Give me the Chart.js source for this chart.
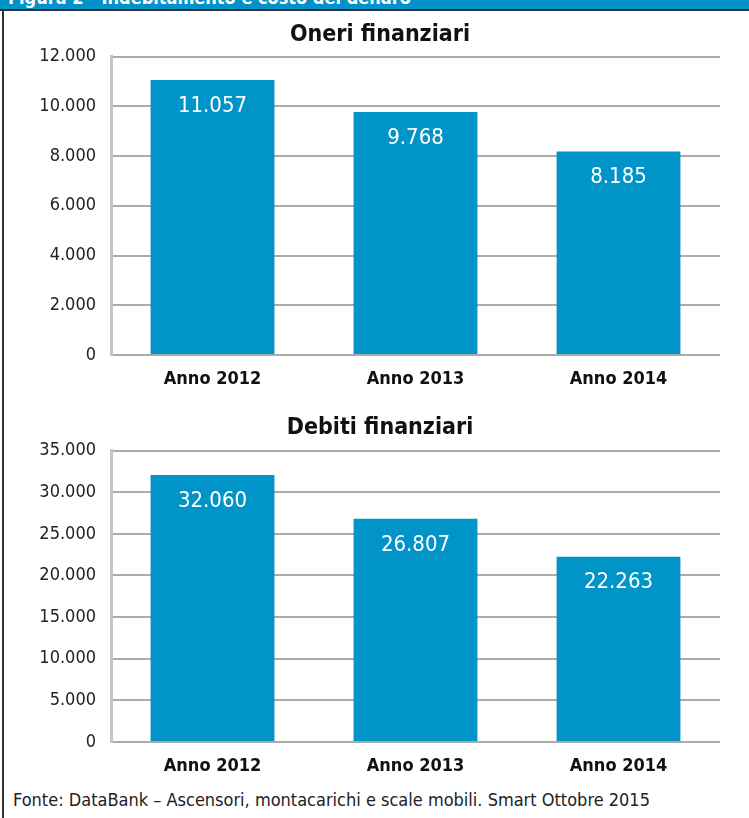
<!DOCTYPE html>
<html>
<head>
<meta charset="utf-8">
<script src="https://cdn.jsdelivr.net/npm/chart.js@4.4.1/dist/chart.umd.min.js"></script>
<style>
  html, body { margin: 0; padding: 0; background: #fff; }
  body { width: 749px; height: 818px; position: relative; overflow: hidden; }
  .frame { position: absolute; left: 2px; top: 0; width: 747px; height: 818px; border-left: 2px solid #333; box-sizing: border-box; }
  .head { position: absolute; left: 0; top: 0; width: 749px; height: 9px; background: #0092c8; border-bottom: 2px solid #24323c; overflow: hidden; }
  .head span { position: absolute; left: 8px; top: -13px; font: bold 18px "DejaVu Sans Condensed", sans-serif; color: #fff; white-space: nowrap; }
  .box { position: absolute; left: 40px; width: 709px; }
  .foot { position: absolute; left: 13px; top: 789px; font: 18px "DejaVu Sans Condensed", sans-serif; color: #222; white-space: nowrap; }
</style>
</head>
<body>
<div class="frame"></div>
<div class="head"><span>Figura 2 - Indebitamento e costo del denaro</span></div>
<div class="box" style="top:10px;height:380px;"><canvas id="oneri"></canvas></div>
<div class="box" style="top:390px;height:387px;"><canvas id="debiti"></canvas></div>
<div class="foot">Fonte: DataBank – Ascensori, montacarichi e scale mobili. Smart Ottobre 2015</div>

<script>
/* ================================================================
   DATA
================================================================ */
const categories   = ['Anno 2012', 'Anno 2013', 'Anno 2014'];
const oneriValues  = [11057, 9768, 8185];
const debitiValues = [32060, 26807, 22263];
const oneriTicks   = { max: 12000, step: 2000 };
const debitiTicks  = { max: 35000, step: 5000 };

const BAR   = '#0094c9';
const GRID  = '#ababab';
const COND  = '"DejaVu Sans Condensed", sans-serif';

/* 12000 -> "12.000" */
function fmt(v) {
  return String(v).replace(/\B(?=(\d{3})+(?!\d))/g, '.');
}

/* white value labels inside the top of each bar */
const valueLabels = {
  id: 'valueLabels',
  afterDatasetsDraw(chart) {
    const ctx = chart.ctx;
    const meta = chart.getDatasetMeta(0);
    ctx.save();
    ctx.fillStyle = '#fff';
    ctx.font = '22px ' + COND;
    ctx.textAlign = 'center';
    ctx.textBaseline = 'middle';
    meta.data.forEach((bar, i) => {
      ctx.fillText(fmt(chart.data.datasets[0].data[i]), bar.x, bar.y + 26);
    });
    ctx.restore();
  }
};

function makeChart(id, title, data, ticks, titlePad) {
  return new Chart(document.getElementById(id), {
    type: 'bar',
    data: {
      labels: categories,
      datasets: [{
        data,
        backgroundColor: BAR,
        borderWidth: 0,
        categoryPercentage: 0.61,
        barPercentage: 1
      }]
    },
    options: {
      responsive: true,
      maintainAspectRatio: false,
      animation: false,
      layout: { padding: { left: 0, right: 29, top: 0, bottom: 0 } },
      plugins: {
        legend: { display: false },
        tooltip: { enabled: false },
        title: {
          display: true,
          text: title,
          color: '#111',
          font: { family: COND, size: 23, weight: 'bold' },
          padding: titlePad
        }
      },
      scales: {
        x: {
          grid: { display: false },
          border: { display: false },
          ticks: { color: '#111', font: { family: COND, size: 18, weight: 'bold' }, padding: 6 },
          afterFit: s => { s.height = 35; }
        },
        y: {
          min: 0,
          max: ticks.max,
          grid: { color: GRID, lineWidth: 2, drawTicks: false },
          border: { display: true, color: '#c4c4c4', width: 3 },
          ticks: {
            stepSize: ticks.step,
            color: '#222',
            font: { family: COND, size: 18 },
            padding: 15,
            callback: v => fmt(v)
          },
          afterFit: s => { s.width = 71; }
        }
      }
    },
    plugins: [valueLabels]
  });
}

makeChart('oneri',  'Oneri finanziari',  oneriValues,  oneriTicks,  { top: 11, bottom: 8 });
makeChart('debiti', 'Debiti finanziari', debitiValues, debitiTicks, { top: 24, bottom: 9 });
</script>
</body>
</html>
